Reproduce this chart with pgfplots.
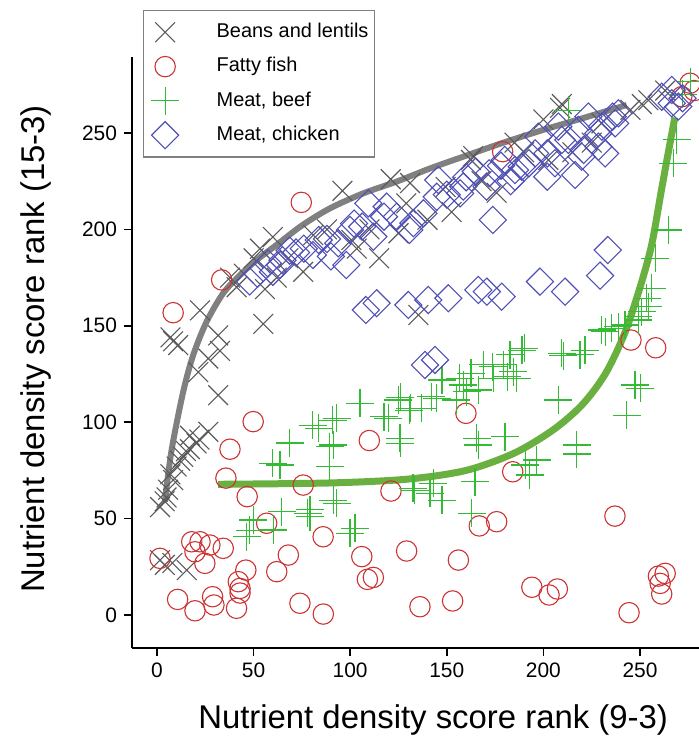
\documentclass[border=0pt]{standalone}
\usepackage{fontspec}
\setmainfont{Liberation Sans}
\usepackage{pgfplots}
\pgfplotsset{compat=1.18}
\definecolor{cbean}{HTML}{5A5A5A}
\definecolor{cfish}{HTML}{CC3333}
\definecolor{cbeef}{HTML}{33BB33}
\definecolor{cchick}{HTML}{4F4FB5}
\definecolor{cgcurve}{HTML}{808080}
\definecolor{cgreen}{HTML}{6AB040}

\begin{document}
\begin{tikzpicture}
\begin{axis}[name=ax, scale only axis, width=283.5bp, height=295.5bp,
  xmin=-12.9, xmax=280.5, ymin=-17.1, ymax=289.4,
  axis lines=left, axis line style={-, line width=0.75bp},
  tick align=outside, major tick length=4bp, tick style={black, line width=0.75bp},
  xtick={0,50,...,250}, ytick={0,50,...,250},
  tick label style={font=\fontsize{10.5}{12}\selectfont, /pgf/number format/assume math mode=true},
  label style={font=\fontsize{16.5}{19}\selectfont},
  xlabel={Nutrient density score rank (9-3)},
  ylabel={Nutrient density score rank (15-3)},
  xlabel style={at={(axis description cs:0.531,-0.122)}, anchor=center},
  ylabel style={at={(axis description cs:-0.169,0.506)}, anchor=center},
  legend cell align=left,
  legend style={at={(axis description cs:0.0194,1.0795)}, anchor=north west,
    draw=cgcurve, line width=0.6bp, fill=white, inner xsep=1bp, inner ysep=4bp,
    font=\fontsize{10}{12}\selectfont, row sep=3.45bp,
    nodes={text height=7.5bp, text depth=2.2bp, inner ysep=2bp}},
  legend image code/.code={\path (0bp,0bp) (33bp,0bp);
    \begin{pgfinterruptboundingbox}\draw[#1] plot coordinates {(9.5bp,0bp)};\end{pgfinterruptboundingbox}},
  every axis plot/.append style={line width=0.55bp},
]
% Beans and lentils
\addplot[only marks, mark=x, mark size=7bp, color=cbean] coordinates {
(1.6,56) (4,59) (5,61) (5.8,65) (8.4,70) (7,73) (10.2,77) (12,80) (13.6,82) (15,85)
(17.1,86) (20.5,89) (17.1,93) (26.6,95) (22,91)
(1.6,28.5) (4.1,26) (8,27) (15.4,23.3)
(8.4,142) (11,140) (7,144) (22.3,158) (31.7,145) (32.6,137) (26.6,133) (21.4,126) (31.7,114)
(55,151) (55.9,169) (37.8,175) (41.2,170) (45,177) (53.3,190) (50,185) (62,175) (68,185)
(75.7,178) (80.9,197) (60,196) (88,200) (100.6,194.5) (96,220) (103.4,190) (110,200) (115,185)
(121,226) (125,198) (129,213.5) (131,224) (135.3,155.6) (140,205) (149.4,222) (152.5,209)
(162.5,236) (163.7,238) (168,225) (175.8,219) (185,245) (190,240) (200,257) (202.6,236)
(208.6,263) (209.5,265) (215,240) (225,245) (230,255) (245,262) (250.9,265) (254.3,267) (263,272)
};
\addlegendentry{Beans and lentils}
% Fatty fish
\addplot[only marks, mark=o, mark size=5.1bp, color=cfish] coordinates {
(8.4,156.8) (33.5,173.8) (74.7,214) (178.9,240.3) (37.8,86) (49.8,100.3) (35.7,71) (46.7,61.4)
(56.8,47.6) (75.7,67.4) (86,40.6) (18,38) (22.3,38) (27.4,36.3) (34.3,34.6) (19.7,32.8)
(24.8,26.8) (1.6,29.4) (46,23.3) (42.1,17.3) (43,13.8) (43,11.4) (62,22.5) (68,31.1)
(10.7,8.1) (19.7,2.2) (28.8,9.5) (29.5,5.2) (41.2,3.5) (74,6.1) (86.1,0.5) (109.9,90.5)
(121.1,64.3) (184.1,74.3) (106,30.3) (129.2,33.2) (156,28.5) (166.8,46.2) (175.8,48.4)
(108.9,18.5) (112,19.5) (136.1,4.3) (153,7.3) (237,51.3) (194,14.4) (202.9,10.4) (207.2,13.5)
(244.3,1.2) (259.5,20.2) (263,21.6) (260.4,16.4) (261.2,10.9) (159.9,104.6) (245.3,142.6)
(258.1,138.6) (271.6,268.8) (275.9,275.8) (278,272)
};
\addlegendentry{Fatty fish}
% Meat, beef
\addplot[only marks, mark=+, mark size=7bp, color=cbeef] coordinates {
(46.4,40.6) (48,44) (49.8,49.3) (60.2,44.1) (64.5,53.6) (60,78.8) (63.7,77.8) (68.8,89.2)
(78,52.7) (79.2,54.5) (79.2,51) (80.7,98.5) (83.7,96.8) (89.3,87.3) (89.3,77) (91.3,88.2)
(91.2,59.6) (93,57.9) (93,102) (91,101) (102.5,45) (99.9,42.4) (105.1,109.8) (117.5,102.9)
(119.7,102) (124.9,111.5) (126,113) (125.8,91.6) (126,89) (131,107.2) (130.6,106.3)
(132.5,65.7) (133.5,64.8) (137,107.2) (141.3,63.1) (143,68.3) (142,113.2) (144.8,112.4)
(147.5,121.9) (147.5,59.6) (155,111.5) (156.8,122.8) (158.5,119.3) (160.3,115.8)
(162.5,125.4) (162.9,52.7) (164.6,69.1) (165.5,91.6) (166.3,88.2) (166.3,116.7) (168.9,129.7)
(173.8,128.8) (174.1,122.8) (179.2,129.7) (180.1,92.5) (181.4,123.6) (182.7,134.9)
(184.4,126.2) (186.2,122.8) (188.9,137.4) (190.1,138.3) (190.5,77.8) (193,72.6) (196.5,80.4)
(207.6,111.5) (209.5,135.7) (210.3,134.5) (217.2,83.5) (217.2,88.2) (218.9,134.9)
(221.5,137.4) (230.2,147.8) (231.9,146.9) (235.3,148.7) (238.8,149.5) (242.2,150.4)
(243.1,103.7) (247.4,119.3) (250,117.6) (249,153) (249.1,154.7) (250.9,157.3) (254.3,159.9)
(253.5,164.2) (256,169.4) (257.8,185) (264.7,199.7) (267.3,234.3) (269,246.4) (212.9,261.8)
(275.9,276.6) (272,270)
};
\addlegendentry{Meat, beef}
% Meat, chicken
\addplot[only marks, mark=square, mark size=4.8bp, mark options={rotate=45}, color=cchick] coordinates {
(48,173) (52,177) (57.4,182.4) (60,178) (63.7,181.5) (65,184) (68.7,189) (72,188) (76,190)
(80.7,186.7) (83.7,194.5) (88,195) (90,186) (93.8,192.8) (98,181.5) (99.9,199.7) (102,203)
(106.2,201.4) (109.4,213.5) (112,196.2) (117.5,206.6) (118.9,211.8) (124.1,206.6)
(130.6,199.7) (132.7,203.2) (137.9,208.3) (144.8,216.9) (145.6,225.6) (150,218) (156.9,218.7)
(158.5,222.2) (160,227) (165,230) (170.6,222.2) (171.9,229.1) (173.8,204.9) (178,233)
(180,236) (183,225) (185.3,230.8) (185.3,227.3) (188.8,232.5) (192.5,234.3) (195.7,239.4)
(197.4,248.1) (202,227.3) (202,239.4) (206,234.3) (207.7,253.3) (209.5,246.4) (212.9,246.4)
(216.4,228.2) (218.1,251.6) (219.8,237.7) (220.8,241.2) (223.3,258.5) (228.4,242.9)
(228.4,249.8) (230.2,253.3) (231.9,239.4) (235.8,258.5) (237.1,255) (238.8,260.2)
(261.2,268.8) (266.4,272.3) (266.4,265.4) (269.8,263.7) (272,268)
(108.1,158.2) (113.7,161.7) (130.1,160.8) (140.4,163.4) (150.8,164.3) (166.3,168.6)
(170.7,167.7) (178.4,165.1) (138.7,129.7) (143.9,132.3) (198.2,172.9) (211.2,167.7)
(229.3,176) (233.3,189.3)
};
\addlegendentry{Meat, chicken}
% fitted curves
\addplot[smooth, line width=3bp, color=cgcurve, forget plot] coordinates {
(4.1,58.8) (7.6,85.6) (13.6,115.8) (18.8,134.9) (25.7,152.1) (34.3,166.9) (43,176.3)
(51.6,184.1) (62,192) (75,202) (89.5,210.9) (106.8,218.7) (124.1,224.8) (141.3,231.6)
(158.5,237.7) (175.8,243.8) (187.9,247.8) (202.5,252.4) (219.8,257.5) (243.1,264.5)
};
\addplot[smooth, line width=3.5bp, color=cgreen, forget plot] coordinates {
(31.7,67.8) (90,68.5) (130,70.5) (160,75) (185,84) (205,96) (220,109) (232,125)
(242,146) (250,170) (256,192) (261,220) (265,242) (268,258)
};
\end{axis}
\pgfresetboundingbox
\path[use as bounding box] ([xshift=-66bp,yshift=-44.5bp]ax.south west) rectangle ([yshift=28.5bp]ax.north east);
\end{tikzpicture}
\end{document}
